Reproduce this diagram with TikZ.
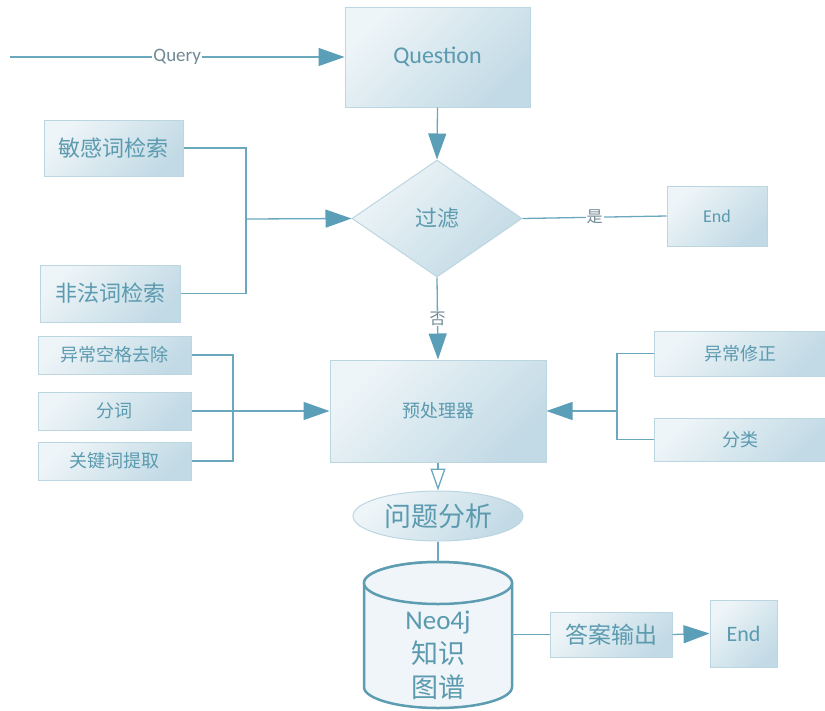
\documentclass[tikz,border=0pt]{standalone}
\usepackage{fontspec}
\setmainfont{Carlito}
\newfontfamily\cjk{Noto Sans CJK SC}
\usetikzlibrary{shapes.geometric,arrows.meta}

\definecolor{boxlight}{HTML}{EEF5F8}
\definecolor{boxdark}{HTML}{C2DAE5}
\definecolor{boxedge}{HTML}{BBD6E1}
\definecolor{linecol}{HTML}{6AA8BE}
\definecolor{tipcol}{HTML}{5A9EB7}
\definecolor{txtcol}{HTML}{5B9AAF}
\definecolor{lblcol}{HTML}{6F8A94}
\definecolor{dbedge}{HTML}{5E9DB1}
\definecolor{dbfill}{HTML}{EFF5F8}

\begin{document}
\begin{tikzpicture}[x=1pt,y=1pt,
  box/.style={draw=boxedge,line width=1pt,top color=boxlight,bottom color=boxdark,
    shading angle=45,text=txtcol,inner sep=0pt},
  latin/.style={font=\fontsize{#1}{#1}\selectfont},
  cn/.style={font=\cjk\fontsize{#1}{#1}\selectfont},
  conn/.style={draw=linecol,line width=1.3pt},
  arr/.style={conn,-{Triangle[length=26pt,width=18pt,color=tipcol]}},
  openarr/.style={conn,-{Triangle[open,length=22pt,width=15pt]}},
  lbl/.style={fill=white,text=lblcol,inner sep=1pt},
  db/.style={draw=dbedge,line width=2.5pt,fill=dbfill}]

  \useasboundingbox (0,0) rectangle (825,-710);

  % query and filter
  \node[box,latin=24,minimum width=185pt,minimum height=100pt] (question) at (437.5,-57) {Question};
  \node[box,cn=22,diamond,aspect=1.45,minimum width=170pt,minimum height=117pt] (filter) at (437,-218.5) {过滤};
  \node[box,cn=22,minimum width=139pt,minimum height=56pt] (sens) at (113.5,-148) {敏感词检索};
  \node[box,cn=22,minimum width=140pt,minimum height=57pt] (illeg) at (110,-293.5) {非法词检索};
  \node[box,latin=18,minimum width=100pt,minimum height=60pt] (endtop) at (717,-216) {End};

  % preprocessing
  \node[box,cn=18,minimum width=216pt,minimum height=102pt] (prep) at (438,-411) {预处理器};
  \node[box,cn=18,minimum width=153pt,minimum height=38pt] (trim) at (114.5,-355) {异常空格去除};
  \node[box,cn=18,minimum width=153pt,minimum height=38pt] (seg) at (114.5,-411) {分词};
  \node[box,cn=18,minimum width=153pt,minimum height=38pt] (kw) at (114.5,-461) {关键词提取};
  \node[box,cn=18,minimum width=172pt,minimum height=45pt] (fix) at (740,-353.5) {异常修正};
  \node[box,cn=18,minimum width=172pt,minimum height=43pt] (cls) at (740,-439.5) {分类};

  % analysis and answer
  \node[box,cn=27,ellipse,minimum width=170pt,minimum height=50pt] (ana) at (438,-516) {问题分析};
  \draw[db] (364,-583) -- (364,-687) arc[start angle=180,end angle=360,x radius=74pt,y radius=21pt]
    -- (512,-583) arc[start angle=0,end angle=180,x radius=74pt,y radius=21pt] -- cycle;
  \draw[db] (438,-583) ellipse[x radius=74pt,y radius=21pt];
  \node[text=txtcol,align=center,font=\fontsize{27}{34}\selectfont] (kg) at (438,-655) {Neo4j\\{\cjk 知识}\\{\cjk 图谱}};
  \node[box,cn=23,minimum width=122pt,minimum height=45pt] (answer) at (611,-634.5) {答案输出};
  \node[box,latin=22,minimum width=67pt,minimum height=67pt] (endbot) at (743.5,-633.5) {End};

  \coordinate (qin) at (10,-57);
  \coordinate (jl) at (246,-219);
  \coordinate (jp) at (233,-411);
  \coordinate (jr) at (617,-411);
  \coordinate (kgtop) at (438,-562);
  \coordinate (kgright) at (512,-634.5);

  % connectors
  \draw[arr] (qin) -- (question.west) node[midway,lbl,latin=19]{Query};
  \draw[arr] (question.south) -- (filter.north);
  \draw[conn] (sens.east) -| (jl) |- (illeg.east);
  \draw[arr] (jl) -- (filter.west);
  \draw[conn] (filter.east) -- (endtop.west) node[midway,lbl,cn=16]{是};
  \draw[arr] (filter.south) -- (prep.north) node[midway,lbl,cn=16]{否};
  \draw[conn] (trim.east) -| (jp) |- (kw.east);
  \draw[arr] (seg.east) -- (prep.west);
  \draw[conn] (fix.west) -| (jr) |- (cls.west);
  \draw[arr] (jr) -- (prep.east);
  \draw[openarr] (prep.south) -- (ana.north);
  \draw[conn] (ana.south) -- (kgtop);
  \draw[conn] (kgright) -- (answer.west);
  \draw[arr] (answer.east) -- (endbot.west);

\end{tikzpicture}
\end{document}
